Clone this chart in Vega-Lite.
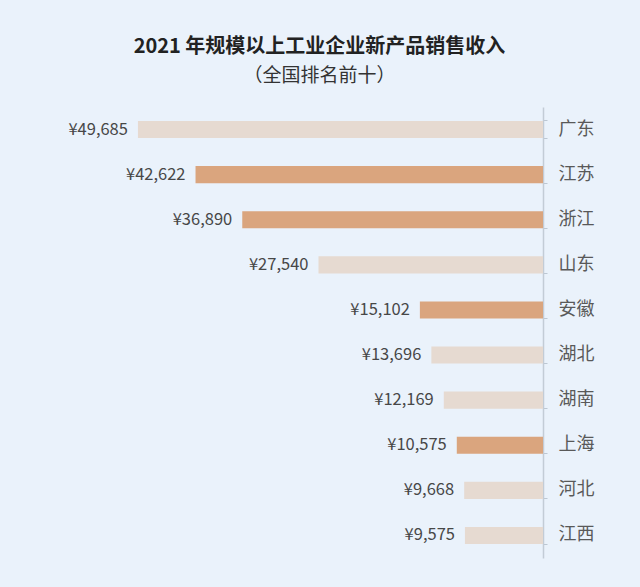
{
  "$schema": "https://vega.github.io/schema/vega-lite/v6.json",
  "width": 503,
  "height": 451,
  "autosize": {"type": "none"},
  "padding": {"left": 40, "top": 107, "right": 97, "bottom": 29},
  "background": "#eaf2fb",
  "title": {
    "text": "2021 年规模以上工业企业新产品销售收入",
    "subtitle": "（全国排名前十）",
    "anchor": "middle",
    "frame": "group",
    "dx": 28,
    "offset": 12,
    "font": "Noto Sans CJK SC",
    "fontSize": 20,
    "fontWeight": "bold",
    "color": "#222222",
    "subtitleFont": "Noto Sans CJK SC",
    "subtitleFontSize": 19,
    "subtitleColor": "#333333",
    "subtitlePadding": 10
  },
  "config": {
    "view": {"stroke": null},
    "locale": {"number": {"decimal": ".", "thousands": ",", "grouping": [3], "currency": ["¥", ""]}}
  },
  "data": {
    "values": [
      {"province": "广东", "revenue": 49685, "group": "其他"},
      {"province": "江苏", "revenue": 42622, "group": "长三角"},
      {"province": "浙江", "revenue": 36890, "group": "长三角"},
      {"province": "山东", "revenue": 27540, "group": "其他"},
      {"province": "安徽", "revenue": 15102, "group": "长三角"},
      {"province": "湖北", "revenue": 13696, "group": "其他"},
      {"province": "湖南", "revenue": 12169, "group": "其他"},
      {"province": "上海", "revenue": 10575, "group": "长三角"},
      {"province": "河北", "revenue": 9668, "group": "其他"},
      {"province": "江西", "revenue": 9575, "group": "其他"}
    ]
  },
  "encoding": {
    "y": {
      "field": "province",
      "type": "nominal",
      "sort": null,
      "scale": {"paddingInner": 0.62, "paddingOuter": 0.31},
      "axis": {
        "orient": "right",
        "title": null,
        "bandPosition": 1,
        "tickExtra": true,
        "tickSize": 4,
        "tickColor": "#bcc7d3",
        "domainColor": "#c3ccd6",
        "domainWidth": 1.5,
        "labelFont": "Noto Sans CJK SC",
        "labelFontSize": 18,
        "labelColor": "#595959",
        "labelPadding": 11
      }
    },
    "x": {
      "field": "revenue",
      "type": "quantitative",
      "scale": {"domain": [0, 61700], "reverse": true, "nice": false},
      "axis": null
    }
  },
  "layer": [
    {
      "mark": {"type": "bar"},
      "encoding": {
        "color": {
          "field": "group",
          "type": "nominal",
          "scale": {"domain": ["长三角", "其他"], "range": ["#daa57e", "#e6dad1"]},
          "legend": null
        }
      }
    },
    {
      "mark": {"type": "text", "align": "right", "baseline": "middle", "dx": -10, "font": "Noto Sans CJK SC", "fontSize": 16.5, "color": "#474747"},
      "encoding": {
        "text": {"field": "revenue", "type": "quantitative", "format": "$,.0f"}
      }
    }
  ]
}
